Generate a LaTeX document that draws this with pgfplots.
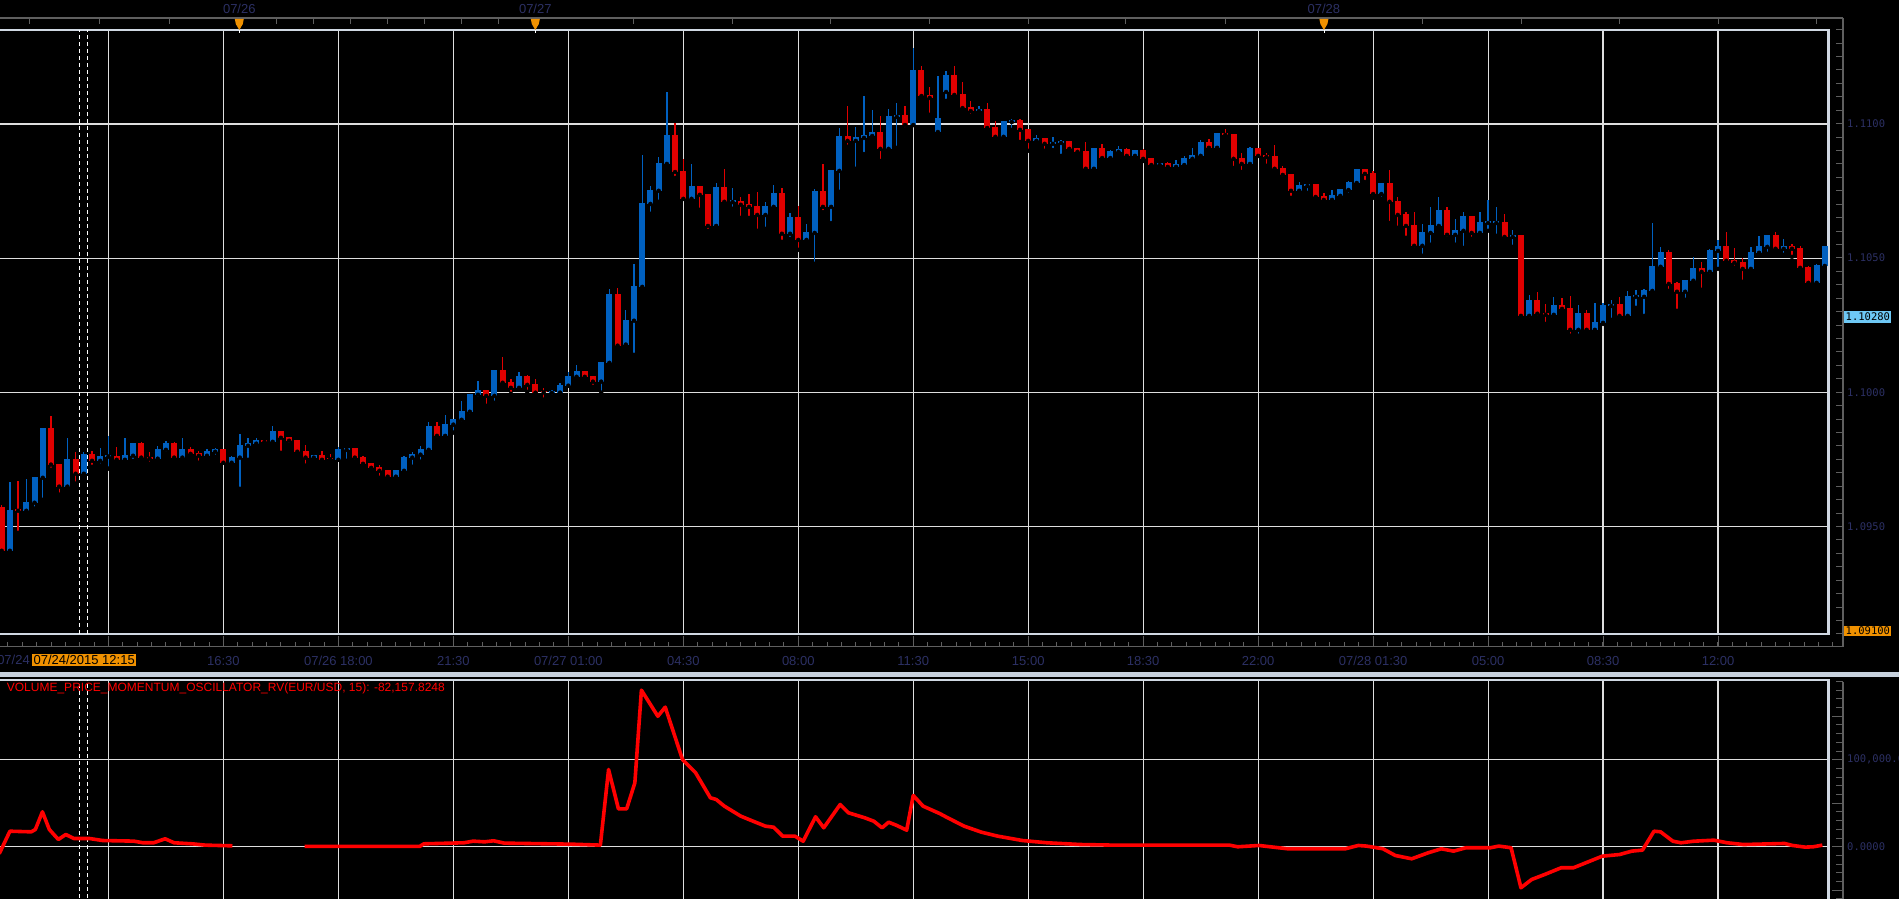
\documentclass[border=0pt]{standalone}
\usepackage{pgfplots}
\pgfplotsset{compat=1.18}
\usepackage{pgfplotstable}
\usepackage{fontspec}
\setmainfont{Liberation Sans}
\newfontfamily\monofont{DejaVu Sans Mono}
\definecolor{upc}{RGB}{0,96,192}
\definecolor{dnc}{RGB}{224,0,0}
\definecolor{gridc}{RGB}{222,222,222}
\definecolor{framec}{RGB}{208,216,226}
\definecolor{lab}{RGB}{44,48,100}
\definecolor{axc}{RGB}{95,95,95}
\definecolor{orng}{RGB}{240,145,0}
\definecolor{lblue}{RGB}{110,200,245}
\definecolor{osc}{RGB}{255,0,0}
\definecolor{sep}{RGB}{200,210,222}
\newcommand\lf{\fontsize{13}{15}\selectfont}
\newcommand\mf{\monofont\fontsize{10.5}{12}\selectfont}

\pgfplotstableread{
i o h l c
1 1.09410 1.09667 1.09410 1.09563
3 1.09559 1.09678 1.09559 1.09593
4 1.09589 1.09686 1.09567 1.09686
5 1.09682 1.09868 1.09600 1.09868
8 1.09649 1.09831 1.09645 1.09753
10 1.09697 1.09779 1.09693 1.09771
12 1.09745 1.09794 1.09727 1.09764
13 1.09761 1.09838 1.09716 1.09767
15 1.09749 1.09831 1.09745 1.09768
16 1.09764 1.09812 1.09745 1.09812
19 1.09753 1.09801 1.09745 1.09790
20 1.09786 1.09820 1.09771 1.09812
22 1.09757 1.09831 1.09757 1.09790
25 1.09764 1.09790 1.09757 1.09783
26 1.09779 1.09794 1.09760 1.09790
28 1.09738 1.09764 1.09738 1.09760
29 1.09757 1.09846 1.09641 1.09805
30 1.09801 1.09831 1.09749 1.09812
31 1.09809 1.09831 1.09809 1.09824
33 1.09816 1.09876 1.09816 1.09857
38 1.09757 1.09768 1.09749 1.09768
41 1.09749 1.09798 1.09749 1.09790
42 1.09786 1.09794 1.09745 1.09794
48 1.09686 1.09712 1.09678 1.09712
49 1.09708 1.09764 1.09701 1.09760
50 1.09757 1.09779 1.09723 1.09771
51 1.09768 1.09801 1.09742 1.09790
52 1.09786 1.09891 1.09786 1.09876
54 1.09838 1.09917 1.09831 1.09883
55 1.09880 1.09902 1.09850 1.09902
56 1.09898 1.09969 1.09883 1.09932
57 1.09928 1.09995 1.09913 1.09995
58 1.09991 1.10043 1.09976 1.10010
60 1.09987 1.10084 1.09961 1.10084
63 1.10017 1.10077 1.10014 1.10062
67 1.09998 1.10010 1.09984 1.10004
68 1.09999 1.10036 1.09991 1.10028
69 1.10025 1.10077 1.10025 1.10062
70 1.10058 1.10103 1.10058 1.10080
73 1.10040 1.10114 1.09999 1.10114
74 1.10110 1.10386 1.10095 1.10367
76 1.10178 1.10308 1.10178 1.10270
77 1.10267 1.10479 1.10140 1.10397
78 1.10393 1.10885 1.10393 1.10706
79 1.10702 1.10769 1.10665 1.10754
80 1.10751 1.10877 1.10710 1.10855
81 1.10851 1.11119 1.10851 1.10959
84 1.10721 1.10851 1.10721 1.10769
87 1.10620 1.10780 1.10620 1.10765
89 1.10709 1.10762 1.10684 1.10715
93 1.10661 1.10710 1.10609 1.10695
94 1.10691 1.10773 1.10687 1.10743
96 1.10591 1.10669 1.10572 1.10654
98 1.10568 1.10628 1.10553 1.10598
99 1.10594 1.10758 1.10479 1.10751
101 1.10691 1.10829 1.10631 1.10829
102 1.10825 1.10985 1.10747 1.10955
104 1.10937 1.10989 1.10833 1.10952
105 1.10948 1.11104 1.10888 1.10959
106 1.10955 1.11052 1.10955 1.10970
108 1.10907 1.11056 1.10892 1.11030
109 1.11026 1.11078 1.10911 1.11034
111 1.10996 1.11283 1.10996 1.11201
114 1.10970 1.11179 1.10963 1.11023
115 1.11119 1.11197 1.11086 1.11182
119 1.11048 1.11067 1.11041 1.11056
122 1.10952 1.11011 1.10944 1.11011
123 1.11007 1.11019 1.10978 1.11015
126 1.10937 1.10959 1.10929 1.10948
128 1.10926 1.10952 1.10903 1.10933
129 1.10929 1.10941 1.10881 1.10937
133 1.10833 1.10911 1.10833 1.10911
135 1.10873 1.10903 1.10873 1.10900
136 1.10896 1.10918 1.10896 1.10907
138 1.10881 1.10903 1.10877 1.10903
141 1.10847 1.10855 1.10840 1.10855
143 1.10840 1.10866 1.10840 1.10851
144 1.10847 1.10881 1.10847 1.10873
145 1.10870 1.10911 1.10866 1.10885
146 1.10881 1.10941 1.10881 1.10933
148 1.10911 1.10967 1.10911 1.10967
152 1.10851 1.10915 1.10844 1.10911
158 1.10751 1.10784 1.10751 1.10773
159 1.10769 1.10777 1.10743 1.10777
162 1.10717 1.10754 1.10706 1.10736
163 1.10732 1.10758 1.10725 1.10758
164 1.10754 1.10788 1.10736 1.10784
165 1.10780 1.10833 1.10769 1.10833
168 1.10739 1.10780 1.10721 1.10780
173 1.10546 1.10628 1.10509 1.10598
174 1.10594 1.10691 1.10550 1.10624
175 1.10620 1.10728 1.10617 1.10680
177 1.10587 1.10646 1.10550 1.10605
178 1.10602 1.10672 1.10538 1.10658
180 1.10594 1.10672 1.10594 1.10635
181 1.10631 1.10717 1.10602 1.10637
182 1.10631 1.10691 1.10583 1.10637
184 1.10579 1.10605 1.10542 1.10585
186 1.10285 1.10363 1.10270 1.10345
189 1.10289 1.10356 1.10289 1.10326
192 1.10233 1.10326 1.10211 1.10296
194 1.10233 1.10334 1.10233 1.10263
195 1.10259 1.10334 1.10255 1.10326
196 1.10322 1.10345 1.10270 1.10328
198 1.10285 1.10378 1.10285 1.10360
199 1.10356 1.10382 1.10315 1.10362
200 1.10356 1.10386 1.10285 1.10382
201 1.10378 1.10631 1.10378 1.10471
202 1.10468 1.10542 1.10464 1.10524
205 1.10375 1.10419 1.10345 1.10419
206 1.10416 1.10505 1.10412 1.10464
208 1.10449 1.10535 1.10434 1.10531
209 1.10527 1.10568 1.10460 1.10546
213 1.10460 1.10542 1.10456 1.10524
214 1.10520 1.10583 1.10520 1.10546
215 1.10542 1.10587 1.10516 1.10587
217 1.10535 1.10572 1.10512 1.10546
221 1.10408 1.10479 1.10408 1.10475
222 1.10471 1.10546 1.10471 1.10546
}\uptable

\pgfplotstableread{
i o h l c
0 1.09574 1.09582 1.09395 1.09410
2 1.09567 1.09671 1.09477 1.09559
6 1.09868 1.09913 1.09712 1.09731
7 1.09734 1.09734 1.09619 1.09649
9 1.09753 1.09779 1.09660 1.09697
11 1.09771 1.09783 1.09723 1.09745
14 1.09764 1.09798 1.09745 1.09749
17 1.09812 1.09816 1.09753 1.09757
18 1.09760 1.09779 1.09734 1.09753
21 1.09812 1.09816 1.09757 1.09757
23 1.09790 1.09798 1.09768 1.09771
24 1.09775 1.09783 1.09738 1.09764
27 1.09790 1.09790 1.09738 1.09738
32 1.09824 1.09824 1.09816 1.09816
34 1.09857 1.09857 1.09775 1.09831
35 1.09835 1.09835 1.09805 1.09820
36 1.09824 1.09824 1.09775 1.09779
37 1.09783 1.09805 1.09727 1.09757
39 1.09768 1.09783 1.09745 1.09749
40 1.09757 1.09771 1.09742 1.09751
43 1.09794 1.09794 1.09742 1.09757
44 1.09760 1.09764 1.09734 1.09734
45 1.09738 1.09738 1.09719 1.09719
46 1.09723 1.09731 1.09682 1.09708
47 1.09712 1.09712 1.09686 1.09686
53 1.09876 1.09891 1.09824 1.09838
59 1.10010 1.10010 1.09950 1.09987
61 1.10084 1.10133 1.10032 1.10036
62 1.10040 1.10051 1.09995 1.10017
64 1.10062 1.10066 1.10002 1.10028
65 1.10032 1.10051 1.09984 1.09999
66 1.10006 1.10017 1.09973 1.10000
71 1.10080 1.10080 1.10054 1.10058
72 1.10062 1.10062 1.10021 1.10040
75 1.10367 1.10389 1.10174 1.10174
82 1.10959 1.11004 1.10799 1.10821
83 1.10825 1.10870 1.10721 1.10721
85 1.10769 1.10769 1.10680 1.10736
86 1.10739 1.10739 1.10602 1.10620
88 1.10765 1.10833 1.10710 1.10710
90 1.10713 1.10728 1.10650 1.10699
91 1.10702 1.10739 1.10650 1.10691
92 1.10695 1.10747 1.10602 1.10661
95 1.10743 1.10762 1.10561 1.10591
97 1.10654 1.10695 1.10531 1.10568
100 1.10751 1.10851 1.10672 1.10691
103 1.10955 1.11067 1.10915 1.10937
107 1.10970 1.11030 1.10862 1.10907
110 1.11034 1.11067 1.10981 1.10996
112 1.11201 1.11216 1.11097 1.11104
113 1.11108 1.11138 1.11034 1.11097
116 1.11182 1.11216 1.11108 1.11108
117 1.11112 1.11156 1.11059 1.11059
118 1.11063 1.11086 1.11030 1.11048
120 1.11056 1.11078 1.10985 1.10985
121 1.10989 1.11011 1.10952 1.10952
124 1.11015 1.11019 1.10933 1.10978
125 1.10981 1.10981 1.10900 1.10937
127 1.10948 1.10948 1.10900 1.10926
130 1.10937 1.10937 1.10907 1.10907
131 1.10911 1.10911 1.10896 1.10896
132 1.10900 1.10933 1.10833 1.10833
134 1.10911 1.10926 1.10866 1.10873
137 1.10907 1.10911 1.10870 1.10881
139 1.10903 1.10907 1.10862 1.10870
140 1.10873 1.10873 1.10847 1.10847
142 1.10855 1.10859 1.10833 1.10840
147 1.10933 1.10944 1.10911 1.10911
149 1.10967 1.10981 1.10944 1.10959
150 1.10963 1.10963 1.10836 1.10870
151 1.10873 1.10892 1.10821 1.10851
153 1.10911 1.10911 1.10881 1.10881
154 1.10885 1.10892 1.10844 1.10877
155 1.10881 1.10922 1.10833 1.10833
156 1.10836 1.10844 1.10795 1.10810
157 1.10814 1.10814 1.10725 1.10751
160 1.10777 1.10777 1.10713 1.10728
161 1.10732 1.10743 1.10710 1.10717
166 1.10833 1.10833 1.10784 1.10814
167 1.10818 1.10825 1.10725 1.10739
169 1.10780 1.10829 1.10631 1.10710
170 1.10713 1.10728 1.10613 1.10661
171 1.10665 1.10672 1.10576 1.10620
172 1.10624 1.10672 1.10531 1.10546
176 1.10680 1.10691 1.10572 1.10587
179 1.10658 1.10658 1.10572 1.10594
183 1.10635 1.10665 1.10579 1.10579
185 1.10587 1.10587 1.10285 1.10285
187 1.10345 1.10375 1.10278 1.10293
188 1.10296 1.10330 1.10255 1.10289
190 1.10326 1.10352 1.10308 1.10311
191 1.10315 1.10360 1.10211 1.10233
193 1.10296 1.10308 1.10226 1.10233
197 1.10330 1.10356 1.10278 1.10285
203 1.10524 1.10531 1.10378 1.10404
204 1.10408 1.10412 1.10304 1.10375
207 1.10464 1.10486 1.10382 1.10449
210 1.10546 1.10598 1.10490 1.10490
211 1.10494 1.10538 1.10464 1.10483
212 1.10486 1.10501 1.10412 1.10460
216 1.10587 1.10598 1.10535 1.10535
218 1.10546 1.10553 1.10505 1.10535
219 1.10538 1.10546 1.10449 1.10464
220 1.10468 1.10471 1.10408 1.10408
}\dntable

\begin{document}
\begin{tikzpicture}[x=1pt,y=1pt]
\fill[black] (0,0) rectangle (1899,899);
\useasboundingbox (0,0) rectangle (1899,899);

% ---------- price panel ----------
\begin{axis}[
  at={(-3pt,265pt)}, anchor=south west, scale only axis,
  width=1831.5pt, height=604pt,
  xmin=-0.572, xmax=222.45, ymin=1.0910, ymax=1.1135,
  axis line style={framec, line width=2.5pt},
  tick style={draw=none},
  xtick={13,27,...,209},
  xticklabels={,16:30,07/26 18:00,21:30,07/27 01:00,04:30,08:00,11:30,15:00,18:30,22:00,07/28 01:30,05:00,08:30,12:00},
  xticklabel style={font=\lf, text=lab, anchor=center, yshift=-27pt},
  ytick={1.095,1.1,1.105,1.11},
  yticklabels={1.0950,1.1000,1.1050,1.1100},
  yticklabel pos=right,
  yticklabel style={font=\mf, text=lab, anchor=west, inner sep=0pt, xshift=18.5pt},
  grid=major, grid style={gridc, line width=1.2pt},
  clip mode=individual,
]
\draw[white, line width=1pt, dash pattern=on 4pt off 3pt] (axis cs:9.47,1.0910) -- (axis cs:9.47,1.1135);
\draw[white, line width=1pt, dash pattern=on 4pt off 3pt] (axis cs:10.45,1.0910) -- (axis cs:10.45,1.1135);
% wicks
\addplot[only marks, mark=none, error bars/.cd, y dir=plus, y explicit, error mark=none,
  error bar style={upc, line width=1.3pt}]
  table[x=i, y=l, y error plus expr=\thisrow{h}-\thisrow{l}] {\uptable};
\addplot[only marks, mark=none, error bars/.cd, y dir=plus, y explicit, error mark=none,
  error bar style={dnc, line width=1.3pt}]
  table[x=i, y=l, y error plus expr=\thisrow{h}-\thisrow{l}] {\dntable};
% bodies
\addplot[only marks, mark=none, error bars/.cd, y dir=plus, y explicit, error mark=none,
  error bar style={upc, line width=6pt}]
  table[x=i, y=o, y error plus expr=\thisrow{c}-\thisrow{o}] {\uptable};
\addplot[only marks, mark=none, error bars/.cd, y dir=plus, y explicit, error mark=none,
  error bar style={dnc, line width=6pt}]
  table[x=i, y=c, y error plus expr=\thisrow{o}-\thisrow{c}] {\dntable};
\end{axis}

% ---------- oscillator panel ----------
\begin{axis}[
  at={(-3pt,-6pt)}, anchor=south west, scale only axis,
  width=1831.5pt, height=225pt,
  xmin=-0.572, xmax=222.45, ymin=-66900, ymax=191700,
  axis line style={framec, line width=2.5pt},
  tick style={draw=none},
  xtick={13,27,...,209}, xticklabels={},
  ytick={0,100000}, yticklabels={{0.0000},{100,000.0000}},
  scaled y ticks=false,
  yticklabel pos=right,
  yticklabel style={font=\mf, text=lab, anchor=west, inner sep=0pt, xshift=18.5pt},
  grid=major, grid style={gridc, line width=1.2pt},
  clip mode=individual,
]
\draw[white, line width=1pt, dash pattern=on 4pt off 3pt] (axis cs:9.47,-66900) -- (axis cs:9.47,191700);
\draw[white, line width=1pt, dash pattern=on 4pt off 3pt] (axis cs:10.45,-66900) -- (axis cs:10.45,191700);
\addplot[osc, line width=3.6pt, line join=round] coordinates {
(-0.3,-8000) (1.0,17900) (3.6,17200) (4.1,19900) (4.96,40200) (5.8,19900) (6.9,8400)
(7.8,14100) (8.8,9500) (10.7,9500) (12.3,7200) (16.1,6500) (17.2,4600) (18.5,4600)
(19.9,9200) (21.0,4600) (23.2,3400) (24.8,1900) (28.1,1100)
};
\addplot[osc, line width=3.6pt, line join=round] coordinates {
(36.9,400) (50.9,400) (51.4,3400) (56.3,4600) (57.4,6500) (58.8,5700) (59.9,6900)
(61.2,4200) (63.9,3800) (69.4,3000) (72.9,1900) (73.9,88800) (75.1,43600) (76.1,43600)
(77.1,73500) (77.9,180000) (79.9,150000) (80.8,160500) (81.9,129000) (82.9,100300)
(84.5,85000) (86.3,56300) (87,54400) (88,46700) (90,35200) (91.5,29400) (93,23700)
(94,22500) (95.1,12200) (96.6,12200) (97.6,6400) (99.1,34500) (100.1,21800)
(102.1,48600) (103.1,39100) (105.1,33300) (106.2,29400) (107.2,21800) (108,28300)
(109,24500) (110.2,19100) (111,59000) (112.2,46700) (114.2,38300) (115.2,33300)
(117.2,23700) (119.3,16800) (121.3,12200) (124.3,7200) (127.3,4600) (131.4,2600)
(135.4,1900) (149.5,1900) (150.5,0) (153.1,1500) (156.6,-2300) (163.6,-2300)
(165.2,1500) (166.2,800) (168.2,-2300) (169.7,-10000) (171.7,-13800) (173.7,-6900)
(175.3,-2300) (176.8,-5000) (178.3,-1100) (181.3,-1100) (182.3,800) (183.8,-1100)
(185.0,-47100) (186.3,-37600) (187.9,-31800) (189.9,-24100) (191.4,-24100)
(192.9,-18400) (194.9,-10800) (197,-8900) (198.5,-5000) (199.8,-3800) (201.2,17900)
(202,17200) (203.5,6400) (204.5,4600) (206,6400) (208.5,7600) (210.1,4600)
(212.1,2600) (217.1,3800) (218.1,1500) (219.6,-400) (220.6,0) (221.7,1900)
};
\end{axis}

% ---------- decorations ----------
\draw[axc, line width=1.2pt] (0,881) -- (1843,881);
\foreach \x in {29.5,99.1,169.6,276.3,313.4,350.4,387.5,424.6,461.6,498.7,633.5,732.1,830,929.4,1028.7,1125.8,1225.2,1422.5,1521.2,1619,1718.3,1816.2}
  \draw[axc, line width=1pt] (\x,881) -- (\x,875);
\foreach \x/\t in {239.3/07\slash26, 535.3/07\slash27, 1323.9/07\slash28}{
  \fill[orng] (\x-4.5,880) -- (\x+4.5,880) -- (\x+3.5,875) -- (\x,869) -- (\x-3.5,875) -- cycle;
  \draw[white, line width=0.8pt] (\x,869) -- (\x,866);
  \node[text=lab, font=\lf] at (\x,890) {\t};
}
\draw[axc, line width=1.2pt] (0,252.3) -- (1843,252.3);
\foreach \m in {-7,...,120}
  \draw[axc, line width=1pt] ({108.5+14.37*\m},252.3) -- ++(0,5);
\foreach \k in {0,...,14}
  \draw[axc, line width=1pt] ({108.5+114.97*\k},252.3) -- ++(0,11);
\draw[axc, line width=1.2pt] (1843,881) -- (1843,252.3);
\foreach \k in {0,...,45}
  \draw[axc, line width=1pt] (1836,{265+13.43*\k}) -- (1843,{265+13.43*\k});
\draw[axc, line width=1.2pt] (1843,217) -- (1843,0);
\foreach \m in {-6,...,19}
  \draw[axc, line width=1pt] (1836,{52.2+8.7*\m}) -- (1843,{52.2+8.7*\m});
\foreach \m in {-5,0,5,10,15}
  \draw[axc, line width=1pt] (1832,{52.2+8.7*\m}) -- (1843,{52.2+8.7*\m});
\node[fill=lblue, text=black, font=\mf, inner xsep=1.5pt, inner ysep=2pt, anchor=west] at (1844,582) {1.10280};
\node[fill=orng, text=black, font=\mf, inner xsep=1.5pt, inner ysep=1.5pt, anchor=west] at (1844,268) {1.09100};
\node[fill=orng, text=black, font=\lf, inner xsep=1.5pt, inner ysep=1.5pt] at (84.2,239) {07/24/2015 12:15};
\node[text=lab, font=\lf, anchor=east, inner sep=1pt] at (31,239) {07/24};
\fill[sep] (0,222) rectangle (1899,226.5);
\node[anchor=west, text=osc, font=\fontsize{12}{14}\selectfont, inner sep=0pt] at (6.7,211) {VOLUME\_PRICE\_MOMENTUM\_OSCILLATOR\_RV(EUR/USD, 15): -82,157.8248};
\end{tikzpicture}
\end{document}
